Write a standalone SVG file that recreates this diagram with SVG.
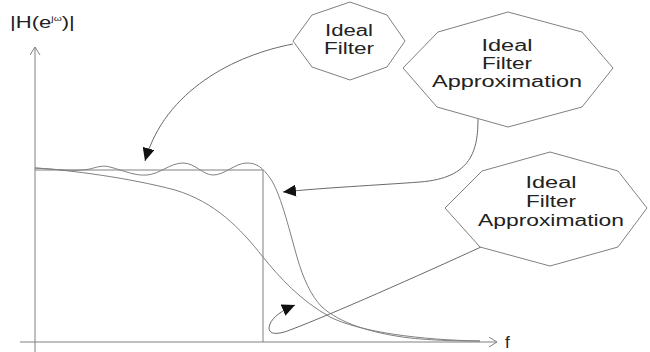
<svg xmlns="http://www.w3.org/2000/svg" width="650" height="352" viewBox="0 0 650 352">
<style>
.ln{fill:none;stroke:#808080;stroke-width:1}
.node polygon{fill:#fff;stroke:#808080;stroke-width:1}
.t{font-family:"Liberation Sans",Arial,sans-serif;font-size:16px;fill:#222;text-anchor:middle}
.con{fill:none;stroke:#6a6a6a;stroke-width:1}
</style>
<defs>
<marker id="ah" markerUnits="userSpaceOnUse" markerWidth="14" markerHeight="12" refX="13" refY="6" orient="auto">
<path d="M0,0 L13,6 L0,12 z" fill="#111"/>
</marker>
<marker id="open" markerUnits="userSpaceOnUse" markerWidth="10" markerHeight="12" refX="8" refY="5" orient="auto">
<path d="M0,0 L8,5 L0,10" fill="none" stroke="#808080" stroke-width="1"/>
</marker>
</defs>
<rect width="650" height="352" fill="#fff"/>
<g id="axes">
<line class="ln" x1="35" y1="352" x2="35" y2="47" marker-end="url(#open)"/>
<line class="ln" x1="20" y1="342" x2="497" y2="342" marker-end="url(#open)"/>
<text transform="translate(10,28) scale(1.3,1)" style="font-family:'Liberation Sans',Arial,sans-serif;font-size:17px;fill:#222">|H(e<tspan font-size="8" dy="-7">jω</tspan><tspan dy="7">)|</tspan></text>
<text x="505" y="348" style="font-family:'Liberation Sans',Arial,sans-serif;font-size:17px;fill:#222">f</text>
</g>
<g id="curves">
<path class="ln" d="M35,170 H263 V342"/>
<path class="ln" d="M35,168 C55,169 75,172 90,169 C97,167 103,165 110,167 C125,171 135,176 147,175 C160,174 170,163 183,163 C195,163 203,175 213,175 C225,175 235,163 247,163 C257,163 263,168 270,178 C280,192 288,225 297,257 C303,278 311,296 322,307 C340,323 370,333 410,338 C440,341 465,341 480,341"/>
<path class="ln" d="M35,168 C70,170 130,178 175,190 C215,202 240,228 263,257 C280,278 300,300 330,317 C360,332 420,340 480,341"/>
</g>
<g id="connectors">
<path class="con" d="M293,44 C235,55 165,90 145,161" marker-end="url(#ah)"/>
<path class="con" d="M478,118 C478,150 472,178 420,182 C380,185 320,188 283,192" marker-end="url(#ah)"/>
<path class="con" d="M481,247 C420,275 330,315 290,330 C275,336 266,334 270,324 C273,317 281,311 295,305" marker-end="url(#ah)"/>
</g>
<g id="ideal-filter" class="node">
<polygon points="350,2 387,15 405,41 387,67 350,80 312,67 293,41 312,15"/>
<text class="t" x="349" y="36" textLength="48" lengthAdjust="spacingAndGlyphs">Ideal</text>
<text class="t" x="349" y="54" textLength="50" lengthAdjust="spacingAndGlyphs">Filter</text>
</g>
<g id="approx-1" class="node">
<polygon points="508,12 582,32 613,68 582,107 508,127 437,107 403,68 438,32"/>
<text class="t" x="507" y="51" textLength="51" lengthAdjust="spacingAndGlyphs">Ideal</text>
<text class="t" x="507" y="69" textLength="50" lengthAdjust="spacingAndGlyphs">Filter</text>
<text class="t" x="507" y="87" textLength="150" lengthAdjust="spacingAndGlyphs">Approximation</text>
</g>
<g id="approx-2" class="node">
<polygon points="550,152 618,171 647,208 618,247 550,266 480,247 445,208 482,171"/>
<text class="t" x="551" y="188" textLength="51" lengthAdjust="spacingAndGlyphs">Ideal</text>
<text class="t" x="551" y="207" textLength="50" lengthAdjust="spacingAndGlyphs">Filter</text>
<text class="t" x="551" y="226" textLength="146" lengthAdjust="spacingAndGlyphs">Approximation</text>
</g>
</svg>
